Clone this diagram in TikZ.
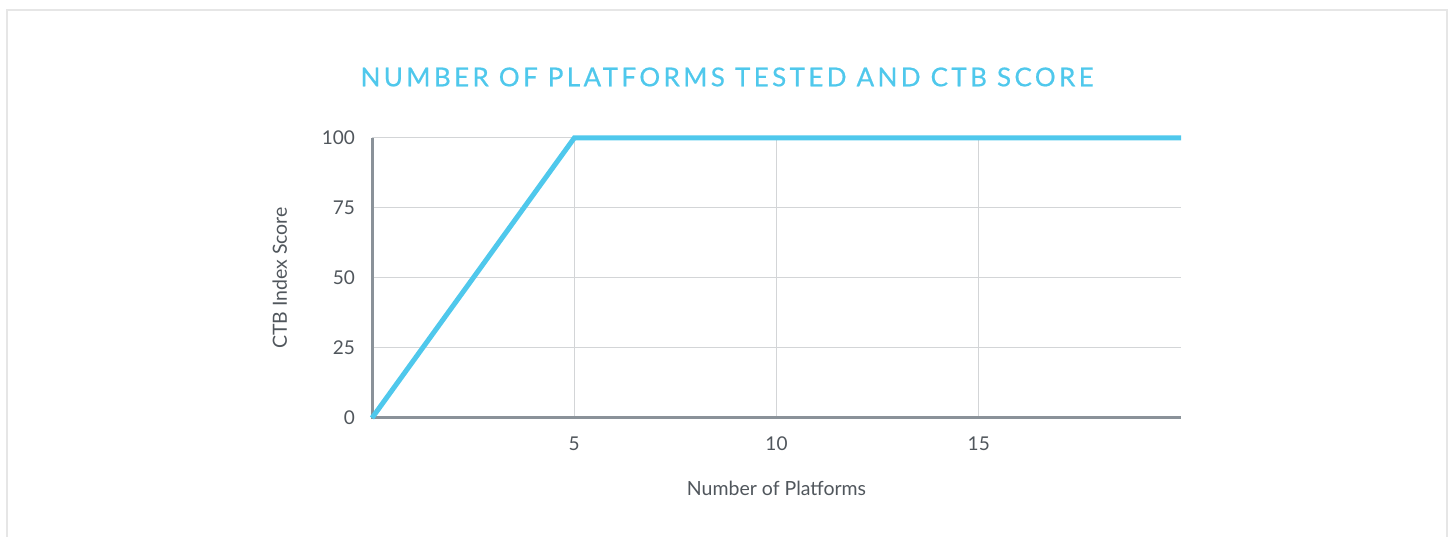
\documentclass[tikz,border=0pt]{standalone}
\usepackage{fontspec}
\setmainfont{Lato}
\newfontfamily\titlefont[LetterSpace=13, FakeBold=0.6]{Lato}
\definecolor{ctbblue}{HTML}{4FC8EC}
\definecolor{axisgray}{HTML}{8A9299}
\definecolor{gridgray}{HTML}{D3D5D7}
\definecolor{framegray}{HTML}{E6E6E6}
\definecolor{labelgray}{HTML}{50565C}

\tikzset{
  grid line/.style={draw=gridgray, line width=1pt},
  axis line/.style={draw=axisgray, line width=3pt},
  score line/.style={draw=ctbblue, line width=5pt, line join=miter},
  tick label/.style={text=labelgray, font=\fontsize{19}{21}\selectfont, inner sep=0pt},
  axis label/.style={text=labelgray, font=\fontsize{19.5}{22}\selectfont, inner sep=0pt}
}

\begin{document}
\begin{tikzpicture}[x=1pt, y=1pt]
  \useasboundingbox (0,0) rectangle (1450,537);
  % frame
  \draw[framegray, line width=1.5pt] (7,-5) -- (7,527) -- (1447,527) -- (1447,-5);

  \node[text=ctbblue, font=\titlefont\fontsize{26}{30}\selectfont, inner sep=0pt]
    (title) at (727,460) {NUMBER OF PLATFORMS TESTED AND CTB SCORE};

  \begin{scope}[shift={(372,119)}, x=40.45pt, y=2.8pt]
    % grid
    \foreach \s in {25,50,75,100}
      \draw[grid line] (0,\s) -- (20,\s);
    \foreach \n in {5,10,15}
      \draw[grid line] (\n,0) -- (\n,100);
    % axes
    \draw[axis line] (0,100) -- (0,0) -- (20,0);
    % tick labels
    \foreach \s in {0,25,50,75,100}
      \node[tick label, anchor=east] (y\s) at (-0.42,\s) {\s};
    \foreach \n in {5,10,15}
      \node[tick label, anchor=north] (x\n) at (\n,-6.5) {\n};
    % data
    \draw[score line] (0,0) coordinate (p0) -- (5,100) coordinate (p5) -- (20,100) coordinate (p20);
    \node[axis label, rotate=90] (ylab) at (-2.28,50) {CTB Index Score};
    \node[axis label] (xlab) at (10,-25) {Number of Platforms};
  \end{scope}
\end{tikzpicture}
\end{document}
